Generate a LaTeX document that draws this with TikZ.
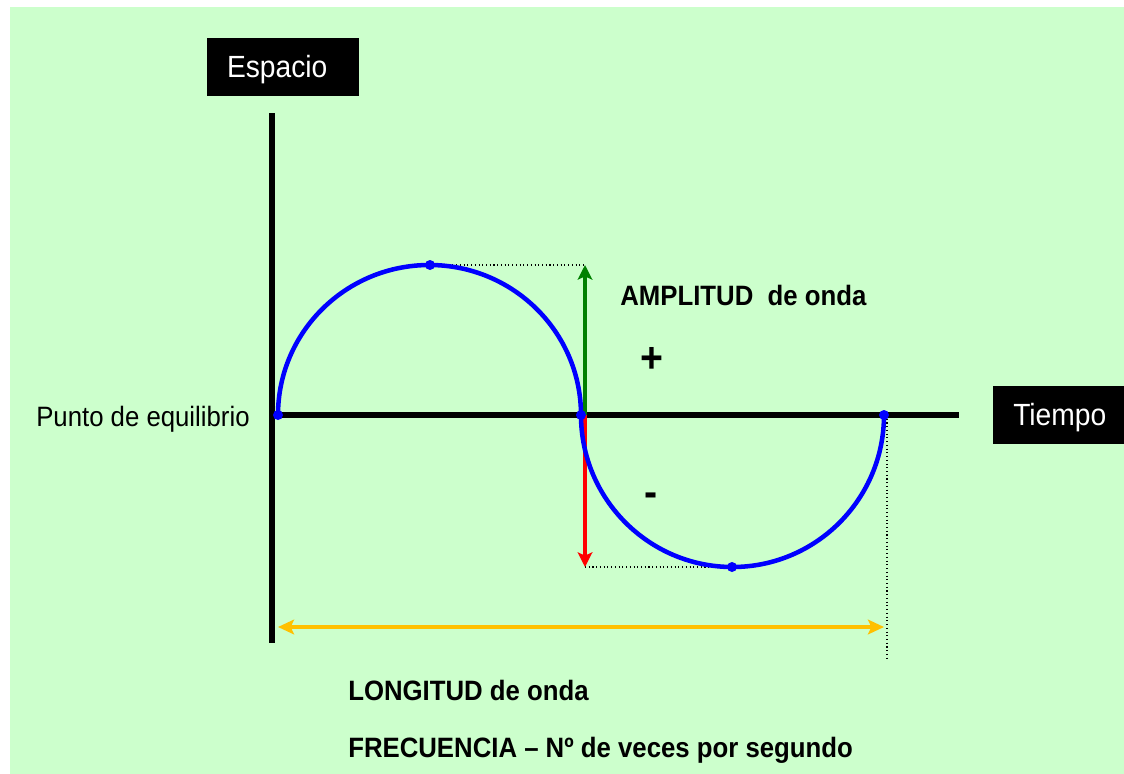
\documentclass[tikz,border=0pt]{standalone}
\usepackage{fontspec}
\setmainfont{Liberation Sans}[FakeStretch=0.92]
\usetikzlibrary{arrows.meta}
\definecolor{fondo}{HTML}{CCFFCC}
\definecolor{onda}{HTML}{0000FF}
\definecolor{amarillo}{HTML}{FFC000}
\definecolor{verde}{HTML}{008000}
\begin{document}
\begin{tikzpicture}[x=0.75pt,y=-0.75pt,
    punto/.style={circle,fill=onda,inner sep=0pt,minimum size=7.5pt},
    caja/.style={fill=black,text=white,font=\fontsize{23}{26}\selectfont,minimum width=#1,minimum height=43.5pt,
        inner xsep=15pt,text height=16.5pt,text depth=0pt,align=left,text width=#1-30pt},
    flecha/.style={line width=2.5pt,-{Stealth[length=11pt,width=11pt,inset=2.5pt]}},
    etiqueta/.style={inner sep=0pt,font=\fontsize{21}{24}\selectfont\bfseries}]
\useasboundingbox (0,0) rectangle (1124,774);
\fill[white] (0,0) rectangle (1124,774);
\fill[fondo] (10,7) rectangle (1124,774);
% ejes
\coordinate (ev0) at (272,113);
\coordinate (ev1) at (272,643);
\coordinate (eh0) at (272,415);
\coordinate (eh1) at (959,415);
\draw[line width=4.3pt] (ev0) -- (ev1);
\draw[line width=3.8pt] (eh0) -- (eh1);
\node[caja=114pt] (espacio) at (283,67) {Espacio};
\node[caja=98pt,anchor=west] (tiempo) at (993,414.5) {Tiempo};
% puntos de la onda
\foreach \n/\px/\py in {0/278/415,1/430/265,2/581/415,3/732/567,4/884/415}
    \coordinate (p\n) at (\px,\py);
\coordinate (a0) at (585,415);
\coordinate (a1) at (585,265);
\coordinate (a2) at (585,567);
\coordinate (q0) at (887,415);
\coordinate (q1) at (887,658);
\coordinate (l0) at (278,627);
\coordinate (l1) at (884,627);
% lineas de referencia
\draw[dotted,line width=0.8pt] (p1) -- (a1);
\draw[dotted,line width=0.8pt] (a2) -- (p3);
\draw[dotted,line width=0.8pt] (q0) -- (q1);
% amplitud
\draw[flecha,verde] (a0) -- (a1);
\draw[flecha,red] (a0) -- (a2);
% onda
\draw[onda,line width=3.4pt] (p0) arc[start angle=180,end angle=360,x radius=151.5,y radius=150]
    arc[start angle=180,end angle=0,x radius=151.5,y radius=152];
\foreach \n in {0,...,4}
    \node[punto] (d\n) at (p\n) {};
% longitud
\draw[amarillo,line width=3.3pt,{Stealth[length=12pt,width=11pt,inset=2.5pt]}-{Stealth[length=12pt,width=11pt,inset=2.5pt]}] (l0) -- (l1);
% textos
\node[inner sep=0pt,anchor=base west,font=\fontsize{21}{24}\selectfont] (equilibrio) at (36,426) {Punto de equilibrio};
\node[etiqueta,anchor=base west] (amplitud) at (620,305) {AMPLITUD\ \ de onda};
\node[inner sep=0pt,font=\fontsize{32}{36}\selectfont\bfseries] (mas) at (652,360) {+};
\node[inner sep=0pt,font=\fontsize{32}{36}\selectfont\bfseries] (menos) at (651,500) {-};
\node[etiqueta,anchor=base west] (longitud) at (348,700) {LONGITUD de onda};
\node[etiqueta,anchor=base west] (frecuencia) at (348,757) {FRECUENCIA – Nº de veces por segundo};
\end{tikzpicture}
\end{document}
